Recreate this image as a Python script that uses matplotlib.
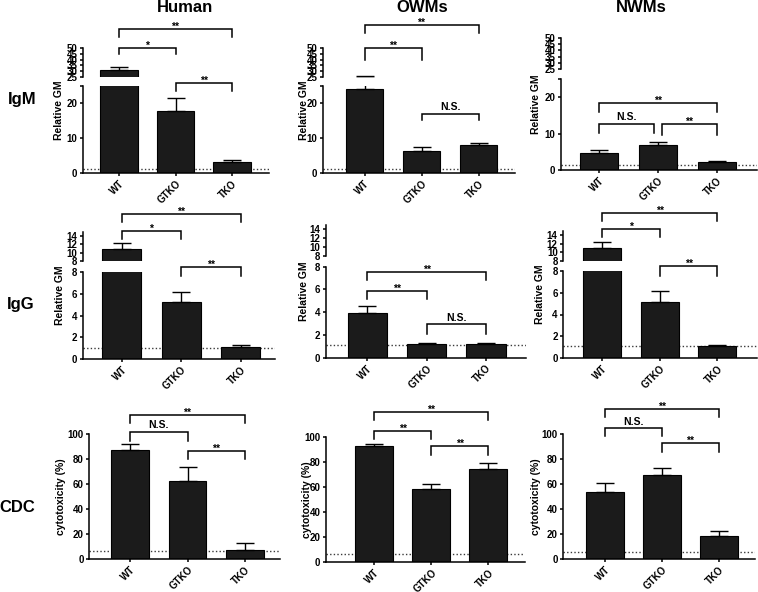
import matplotlib
matplotlib.use('Agg')
import matplotlib.pyplot as plt
from matplotlib.transforms import blended_transform_factory
from matplotlib.ticker import FixedLocator

plt.rcParams['font.family'] = ['Liberation Sans', 'DejaVu Sans']

# ---------------- data ----------------
groups = ['WT', 'GTKO', 'TKO']
species = ['Human', 'OWMs', 'NWMs']
assays = ['IgM', 'IgG', 'CDC']

human_igm = [31.2, 17.9, 3.2]
human_igm_err = [2.8, 3.6, 0.45]
owm_igm = [24.0, 6.4, 8.0]
owm_igm_err = [2.1, 1.0, 0.5]
nwm_igm = [4.75, 6.9, 2.1]
nwm_igm_err = [0.75, 0.7, 0.3]

human_igg = [10.8, 5.2, 1.12]
human_igg_err = [1.4, 0.97, 0.16]
owm_igg = [3.93, 1.2, 1.18]
owm_igg_err = [0.6, 0.12, 0.09]
nwm_igg = [10.9, 5.17, 1.1]
nwm_igg_err = [1.4, 0.98, 0.14]

human_cdc = [87.2, 62.7, 7.2]
human_cdc_err = [4.8, 11.2, 5.3]
owm_cdc = [93.0, 58.4, 74.4]
owm_cdc_err = [1.6, 4.2, 4.8]
nwm_cdc = [53.6, 67.2, 18.6]
nwm_cdc_err = [7.4, 5.4, 4.0]

igm_baseline = [1.1, 1.15, 1.3]
igg_baseline = [1.06, 1.12, 1.1]
cdc_baseline = [6.7, 6.6, 5.9]

# significance comparisons: (group i, group j, label)
sig_igm = {'Human': [(0, 2, '**'), (0, 1, '*'), (1, 2, '**')],
           'OWMs': [(0, 2, '**'), (0, 1, '**'), (1, 2, 'N.S.')],
           'NWMs': [(0, 2, '**'), (0, 1, 'N.S.'), (1, 2, '**')]}
sig_igg = {'Human': [(0, 2, '**'), (0, 1, '*'), (1, 2, '**')],
           'OWMs': [(0, 2, '**'), (0, 1, '**'), (1, 2, 'N.S.')],
           'NWMs': [(0, 2, '**'), (0, 1, '*'), (1, 2, '**')]}
sig_cdc = {'Human': [(0, 2, '**'), (0, 1, 'N.S.'), (1, 2, '**')],
           'OWMs': [(0, 2, '**'), (0, 1, '**'), (1, 2, '**')],
           'NWMs': [(0, 2, '**'), (0, 1, 'N.S.'), (1, 2, '**')]}

data = {
    'IgM': {'Human': (human_igm, human_igm_err), 'OWMs': (owm_igm, owm_igm_err), 'NWMs': (nwm_igm, nwm_igm_err)},
    'IgG': {'Human': (human_igg, human_igg_err), 'OWMs': (owm_igg, owm_igg_err), 'NWMs': (nwm_igg, nwm_igg_err)},
    'CDC': {'Human': (human_cdc, human_cdc_err), 'OWMs': (owm_cdc, owm_cdc_err), 'NWMs': (nwm_cdc, nwm_cdc_err)},
}
baselines = {'IgM': igm_baseline, 'IgG': igg_baseline, 'CDC': cdc_baseline}
sigs = {'IgM': sig_igm, 'IgG': sig_igg, 'CDC': sig_cdc}

# ---------------- layout (pixels) ----------------
W, H = 758, 592
# L, R, first-bar centre, spacing, lower top, lower bottom, upper top, upper bottom, ylabel x
layout = {
    ('IgM', 'Human'): (83, 269, 119, 56.5, 86, 173, 47.7, 77.3, 59),
    ('IgM', 'OWMs'): (323, 515, 364.5, 57, 86, 173, 47.7, 77.3, 304),
    ('IgM', 'NWMs'): (561, 757, 599, 59, 79, 170, 38, 69, 536),
    ('IgG', 'Human'): (83, 275, 121.7, 59.5, 271.7, 359.3, 231.5, 261, 60),
    ('IgG', 'OWMs'): (326, 525.7, 367.3, 59.35, 266.7, 357.7, 224.5, 256, 304),
    ('IgG', 'NWMs'): (563.3, 757, 602.3, 57.5, 270.7, 358.3, 230.7, 260.7, 540),
    ('CDC', 'Human'): (89.3, 280, 130, 57.5, 434, 559, None, None, 61),
    ('CDC', 'OWMs'): (326, 525, 374.3, 57, 437.3, 562.3, None, None, 307),
    ('CDC', 'NWMs'): (563.3, 755, 605, 57, 434, 559, None, None, 536),
}
# bracket pixel heights (top, leg bottom) in the same order as comparisons
brackets_px = {
    ('IgM', 'Human'): [(29, 37), (48, 54), (83, 91)],
    ('IgM', 'OWMs'): [(25, 33), (48, 60), (114, 120)],
    ('IgM', 'NWMs'): [(103, 112), (124, 133), (124, 135)],
    ('IgG', 'Human'): [(214.3, 222.3), (231, 239), (266.7, 275.7)],
    ('IgG', 'OWMs'): [(272.3, 280), (291, 299.3), (324.3, 333.7)],
    ('IgG', 'NWMs'): [(213.3, 221), (229.3, 237.3), (265.7, 275.7)],
    ('CDC', 'Human'): [(415, 423.3), (431.7, 440.7), (450.7, 459.3)],
    ('CDC', 'OWMs'): [(411.7, 420), (431, 439.3), (446, 455)],
    ('CDC', 'NWMs'): [(409.3, 416.7), (428.3, 436), (442.7, 451.7)],
}
ylims = {'IgM': ((0, 25), (25, 50)), 'IgG': ((0, 8), (8, 15)), 'CDC': ((0, 100), None)}
lower_ticks = {'IgM': [0, 10, 20], 'IgG': [0, 2, 4, 6, 8], 'CDC': [0, 20, 40, 60, 80, 100]}
upper_ticks = {'IgM': [25, 30, 35, 40, 45, 50], 'IgG': [8, 10, 12, 14]}
ylabels = {'IgM': 'Relative GM', 'IgG': 'Relative GM', 'CDC': 'cytotoxicity (%)'}

BAR = '#1b1b1b'
LW = 1.1
TICKFS = 7

fig = plt.figure(figsize=(W / 100, H / 100), dpi=100)


def fy(py):
    return 1 - py / H


def px_axes(L, R, top, bot):
    return fig.add_axes([L / W, 1 - bot / H, (R - L) / W, (bot - top) / H])


def style(ax, bottom=True):
    for s in ['top', 'right']:
        ax.spines[s].set_visible(False)
    ax.spines['left'].set_linewidth(LW)
    ax.spines['bottom'].set_linewidth(LW)
    if not bottom:
        ax.spines['bottom'].set_visible(False)
        ax.tick_params(axis='x', bottom=False, labelbottom=False)
    ax.tick_params(axis='both', direction='out', length=2.5, width=LW,
                   labelsize=TICKFS, pad=1.5)
    for lab in ax.get_yticklabels():
        lab.set_fontweight('bold')
    ax.patch.set_alpha(0)


x = list(range(len(groups)))
for assay in assays:
    for k, sp in enumerate(species):
        L, R, c0, s, lt, lb, ut, ub, ylx = layout[(assay, sp)]
        xlim = ((L - c0) / s, (R - c0) / s)
        mean, err = data[assay][sp]
        lo_err = [0] * len(err)

        ax = px_axes(L, R, lt, lb)
        ax.axhline(baselines[assay][k], color='#3a3a3a', lw=1.0, ls=(0, (1, 1.6)), zorder=1)
        ax.bar(x, mean, width=0.66, color=BAR, edgecolor='black', linewidth=0.8, zorder=2)
        ax.errorbar(x, mean, yerr=[lo_err, err], fmt='none', ecolor='black',
                    elinewidth=1.0, capsize=6.5, capthick=1.0, zorder=3)
        ax.set_xlim(*xlim)
        ax.set_ylim(*ylims[assay][0])
        ax.set_yticks(lower_ticks[assay])
        if assay == 'IgM':
            ax.yaxis.set_minor_locator(FixedLocator([25]))
            ax.tick_params(axis='y', which='minor', length=2.5, width=LW, direction='out')
        ax.set_xticks(x)
        ax.set_xticklabels(groups, rotation=45, ha='right', va='top',
                           rotation_mode='anchor', fontsize=TICKFS, fontweight='bold')
        style(ax)

        if ut is not None:
            axu = px_axes(L, R, ut, ub)
            axu.bar(x, mean, width=0.66, color=BAR, edgecolor='black', linewidth=0.8, zorder=2)
            axu.errorbar(x, mean, yerr=[lo_err, err], fmt='none', ecolor='black',
                         elinewidth=1.0, capsize=6.5, capthick=1.0, zorder=3)
            axu.set_xlim(*xlim)
            axu.set_ylim(*ylims[assay][1])
            axu.set_yticks(upper_ticks[assay])
            style(axu, bottom=False)
            ytop = ut
        else:
            ytop = lt

        # y label centred on the whole (possibly broken) panel
        fig.text(ylx / W, fy((ytop + lb) / 2), ylabels[assay], rotation=90,
                 ha='center', va='center', fontsize=7.5, fontweight='bold')

        # significance brackets
        trans = blended_transform_factory(ax.transData, fig.transFigure)
        comps = sigs[assay][sp]
        bpx = brackets_px[(assay, sp)]
        same_level = bpx[1][0] == bpx[2][0]
        for (i, j, lab), (top, leg) in zip(comps, bpx):
            x1, x2 = i, j
            if same_level and (i, j) == (0, 1):
                x2 = j - 0.06
            if same_level and (i, j) == (1, 2):
                x1 = i + 0.06
            ax.plot([x1, x1, x2, x2], [fy(leg), fy(top), fy(top), fy(leg)],
                    transform=trans, clip_on=False, color='black', lw=LW,
                    solid_joinstyle='miter')
            if lab == 'N.S.':
                ax.text((x1 + x2) / 2, fy(top - 3.5), lab, transform=trans,
                        ha='center', va='baseline', fontsize=7.5, fontweight='bold')
            else:
                ax.text((x1 + x2) / 2, fy(top + 1.0), lab, transform=trans,
                        ha='center', va='baseline', fontsize=7.5, fontweight='bold')

# column titles and row labels
title_pos = {'Human': 184.5, 'OWMs': 422, 'NWMs': 641}
for sp in species:
    fig.text(title_pos[sp] / W, fy(7.5), sp, ha='center', va='center',
             fontsize=12, fontweight='bold')
row_pos = {'IgM': (22.5, 100), 'IgG': (21, 305), 'CDC': (17, 508)}
for a in assays:
    px, py = row_pos[a]
    fig.text(px / W, fy(py), a, ha='center', va='center', fontsize=12, fontweight='bold')

fig.savefig('out.png', dpi=100)
